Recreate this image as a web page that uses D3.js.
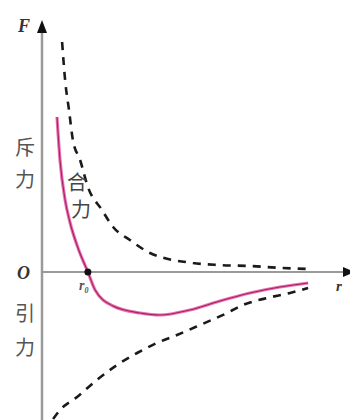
<!DOCTYPE html>
<html>
<head>
<meta charset="utf-8">
<script src="https://cdn.jsdelivr.net/npm/d3@7"></script>
<style>
  body { margin: 0; background: #fff; }
  svg { display: block; }
</style>
</head>
<body>
<svg width="350" height="420"></svg>
<script>
// points: [r, F]
var repulsive = [
	[0.67, 23.0], [0.77, 19.2], [0.9, 16.2], [1.03, 13.2], [1.27, 11.2], [1.53, 8.5],
	[2.0, 6.2], [2.37, 4.5], [2.93, 3.2], [3.6, 1.9], [5.03, 0.9], [5.87, 0.7],
	[6.93, 0.6], [8.03, 0.4], [8.93, 0.3]
];
var net = [
	[0.5, 15.5], [0.6, 11.2], [0.77, 7.2], [0.93, 5.0], [1.2, 2.4], [1.53, 0],
	[1.77, -1.8], [2.37, -3.4], [3.27, -4.1], [3.93, -4.3], [4.93, -3.8], [5.93, -2.9],
	[6.93, -2.1], [7.93, -1.5], [8.87, -1.1]
];
var attractive = [
	[0.37, -14.7], [0.6, -13.8], [1.17, -12.5], [1.83, -10.8], [2.5, -9.3], [3.17, -8.1],
	[3.83, -7.1], [4.5, -6.3], [5.27, -5.3], [6.17, -4.1], [6.7, -3.3], [7.5, -2.6],
	[8.27, -2.1], [8.87, -1.6]
];
var r0 = 1.53;
var sideLabels = [["斥", 148], ["力", 180], ["引", 314], ["力", 348]];
var netLabel = ["合", "力"];

var svg = d3.select("svg");

var x = d3.scaleLinear().domain([0, 10]).range([42, 342]);
var y = d3.scaleLinear().domain([-15, 25]).range([422, 22]);

var line = d3.line()
	.x(function(d) { return x(d[0]); })
	.y(function(d) { return y(d[1]); })
	.curve(d3.curveMonotoneX);

// axes
svg.append("line")
	.attr("x1", x(0)).attr("x2", x(0))
	.attr("y1", 420).attr("y2", y(24))
	.attr("stroke", "#9a9a9a").attr("stroke-width", 2.5);
svg.append("line")
	.attr("x1", x(0)).attr("x2", x(10.1))
	.attr("y1", y(0)).attr("y2", y(0))
	.attr("stroke", "#9a9a9a").attr("stroke-width", 2);

// arrowheads
svg.append("path")
	.attr("d", "M" + x(0) + "," + (y(24) - 12) + "l-5,13l10,0z")
	.attr("fill", "#111");
svg.append("path")
	.attr("d", "M" + (x(10.1) + 10) + "," + y(0) + "l-12,-5l0,10z")
	.attr("fill", "#111");

// dashed component forces
svg.append("path")
	.datum(repulsive)
	.attr("d", line)
	.attr("fill", "none")
	.attr("stroke", "#1a1a1a")
	.attr("stroke-width", 2.6)
	.attr("stroke-dasharray", "8,7");

svg.append("path")
	.datum(attractive)
	.attr("d", line)
	.attr("fill", "none")
	.attr("stroke", "#1a1a1a")
	.attr("stroke-width", 2.6)
	.attr("stroke-dasharray", "8,7");

// net force curve
svg.append("path")
	.datum(net)
	.attr("d", line)
	.attr("fill", "none")
	.attr("stroke", "#e872b0")
	.attr("stroke-width", 3.2);
svg.append("path")
	.datum(net)
	.attr("d", line)
	.attr("fill", "none")
	.attr("stroke", "#a81f66")
	.attr("stroke-width", 1.1);

svg.append("circle")
	.attr("cx", x(r0)).attr("cy", y(0))
	.attr("r", 3.5).attr("fill", "#111");

// labels
var italic = { "font-family": "Liberation Serif, serif", "font-style": "italic", "font-weight": "bold", "fill": "#333" };
function addText(t, px, py, size, extra) {
	var s = svg.append("text").attr("x", px).attr("y", py).attr("font-size", size).text(t);
	Object.keys(extra).forEach(function(k) { s.attr(k, extra[k]); });
	return s;
}
addText("F", 18, 32, 18, italic);
addText("O", 17, 279, 18, italic);
addText("r", 336, 291, 15, italic);
var r0t = addText("r", 79, 290, 14, italic).attr("fill", "#555");
r0t.append("tspan").attr("font-size", 8).attr("dy", 3).text("0");

var cjk = { "font-family": "Noto Sans CJK SC, sans-serif", "fill": "#555", "text-anchor": "middle" };
sideLabels.forEach(function(d) {
	addText(d[0], 25, d[1] + 7, 20, cjk);
});
addText(netLabel[0], 77, 190, 20, cjk).attr("fill", "#444");
addText(netLabel[1], 81, 217, 20, cjk).attr("fill", "#444");
</script>
</body>
</html>
